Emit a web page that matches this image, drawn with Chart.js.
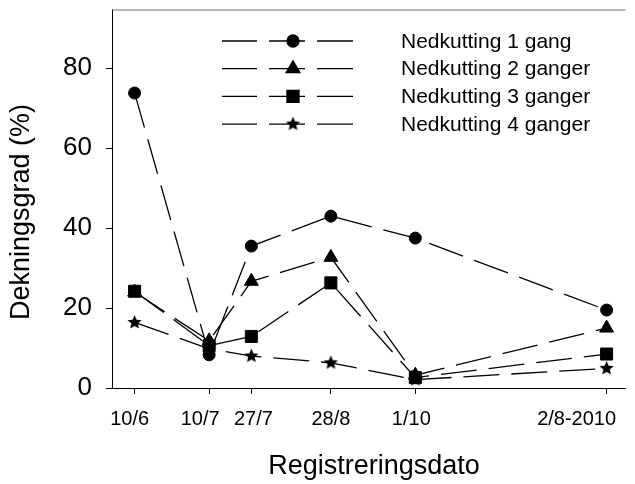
<!DOCTYPE html>
<html lang="no">
<head>
<meta charset="UTF-8">
<title>Dekningsgrad</title>
<script src="https://cdn.jsdelivr.net/npm/chart.js"></script>
<style>
  html, body { margin: 0; padding: 0; background: #fff; }
  canvas { display: block; }
</style>
</head>
<body>
<canvas id="chart" width="635" height="484"></canvas>
<script>
// dager etter 10/6 (siste punkt er lagt inn med brudd på aksen)
const dager = [0, 30, 47, 79, 113, 190];
const datoer = ['10/6', '10/7', '27/7', '28/8', '1/10', '2/8-2010'];
const serieNavn = ['Nedkutting 1 gang', 'Nedkutting 2 ganger', 'Nedkutting 3 ganger', 'Nedkutting 4 ganger'];
const gang1 = [73.8, 8.3, 35.5, 43.0, 37.5, 19.5];
const gang2 = [24.0, 11.8, 26.7, 32.7, 3.2, 15.0];
const gang3 = [24.2, 10.6, 12.9, 26.3, 2.6, 8.5];
const gang4 = [16.4, 9.8, 8.0, 6.3, 2.1, 4.9];
const yTicks = [0, 20, 40, 60, 80];

// etikettene i originalen står litt forskjøvet fra streken
const etikettFlytt = [-5, -9, 2, 0, -4, -30];

const FONT = "'Liberation Sans', Arial, sans-serif";
Chart.defaults.font.family = FONT;
Chart.defaults.color = '#000';

// fylt femtakket stjerne som punktsymbol
function lagStjerne(r) {
    const s = Math.ceil(r * 2) + 2;
    const c = document.createElement('canvas');
    c.width = s; c.height = s;
    const g = c.getContext('2d');
    g.fillStyle = '#000';
    g.beginPath();
    for (let i = 0; i < 10; i++) {
        const rr = i % 2 ? r * 0.45 : r;
        const a = -Math.PI / 2 + i * Math.PI / 5;
        g.lineTo(s / 2 + rr * Math.cos(a), s / 2 + rr * Math.sin(a));
    }
    g.closePath();
    g.fill();
    return c;
}

const symboler = [
    { style: 'circle', r: 6 },
    { style: 'triangle', r: 8 },
    { style: 'rect', r: 8.5 },
    { style: lagStjerne(7.5), r: 7 }
];
const serier = [gang1, gang2, gang3, gang4];

const datasets = serier.map((verdier, i) => ({
    label: serieNavn[i],
    data: verdier.map((v, j) => ({ x: dager[j], y: v })),
    borderColor: '#000',
    borderWidth: 1.3,
    borderDash: [36, 12],
    backgroundColor: '#000',
    pointStyle: symboler[i].style,
    pointRadius: symboler[i].r,
    pointBackgroundColor: '#000',
    pointBorderColor: '#000',
    pointBorderWidth: 1,
    tension: 0,
    fill: false
}));

// tegnforklaring, aksetitler, datoetiketter og toppramme
const pynt = {
    id: 'pynt',
    afterDraw(chart) {
        const ctx = chart.ctx;
        const a = chart.chartArea;
        ctx.save();

        ctx.strokeStyle = '#6e6e6e';
        ctx.lineWidth = 1.2;
        ctx.beginPath();
        ctx.moveTo(a.left, a.top + 0.5);
        ctx.lineTo(a.right, a.top + 0.5);
        ctx.stroke();

        // datoer under x-aksen
        const xs = chart.scales.x;
        ctx.font = '20px ' + FONT;
        ctx.fillStyle = '#000';
        ctx.textAlign = 'center';
        ctx.textBaseline = 'alphabetic';
        dager.forEach((d, i) => {
            const px = xs.getPixelForValue(d) + etikettFlytt[i];
            ctx.fillText(datoer[i], px, 425);
        });

        // aksetitler
        ctx.font = '27px ' + FONT;
        ctx.fillText('Registreringsdato', 374, 474);
        ctx.save();
        ctx.translate(22, 212);
        ctx.rotate(-Math.PI / 2);
        ctx.textBaseline = 'middle';
        ctx.fillText('Dekningsgrad (%)', 0, 0);
        ctx.restore();

        // tegnforklaring
        ctx.font = '21px ' + FONT;
        ctx.textAlign = 'left';
        ctx.textBaseline = 'middle';
        chart.data.datasets.forEach((ds, i) => {
            const y = 41 + i * 27.7;
            ctx.strokeStyle = '#000';
            ctx.lineWidth = 1.3;
            ctx.beginPath();
            [[222, 257], [269, 305], [317, 353]].forEach(([x0, x1]) => {
                ctx.moveTo(x0, y);
                ctx.lineTo(x1, y);
            });
            ctx.stroke();
            ctx.fillStyle = '#000';
            Chart.helpers.drawPoint(ctx, {
                pointStyle: ds.pointStyle,
                radius: ds.pointRadius,
                rotation: 0,
                borderWidth: 1
            }, 293, y);
            ctx.fillStyle = '#000';
            ctx.fillText(ds.label, 401, y + 1);
        });
        ctx.restore();
    }
};

function nullPadding(scale) {
    scale.paddingTop = 0;
    scale.paddingBottom = 0;
    scale.paddingLeft = 0;
    scale.paddingRight = 0;
}

new Chart(document.getElementById('chart'), {
    type: 'line',
    data: { datasets },
    options: {
        responsive: false,
        animation: false,
        layout: { padding: { top: 7, right: 0, left: 0, bottom: 0 } },
        plugins: {
            legend: { display: false },
            tooltip: { enabled: false }
        },
        scales: {
            x: {
                type: 'linear',
                min: -9.1,
                max: 197.6,
                afterBuildTicks: s => { s.ticks = dager.map(v => ({ value: v })); },
                afterFit: s => { s.height = 96; nullPadding(s); },
                ticks: { display: false },
                grid: { display: true, drawOnChartArea: false, drawTicks: true, tickLength: 6, color: '#000', lineWidth: 1 },
                border: { display: true, color: '#000', width: 1 }
            },
            y: {
                min: 0,
                max: 94.7,
                afterBuildTicks: s => { s.ticks = yTicks.map(v => ({ value: v })); },
                afterFit: s => { s.width = 112; nullPadding(s); },
                ticks: { padding: 14, font: { size: 26 }, color: '#000' },
                grid: { display: true, drawOnChartArea: false, drawTicks: true, tickLength: 6, color: '#000', lineWidth: 1 },
                border: { display: true, color: '#000', width: 1 }
            }
        }
    },
    plugins: [pynt]
});
</script>
</body>
</html>
